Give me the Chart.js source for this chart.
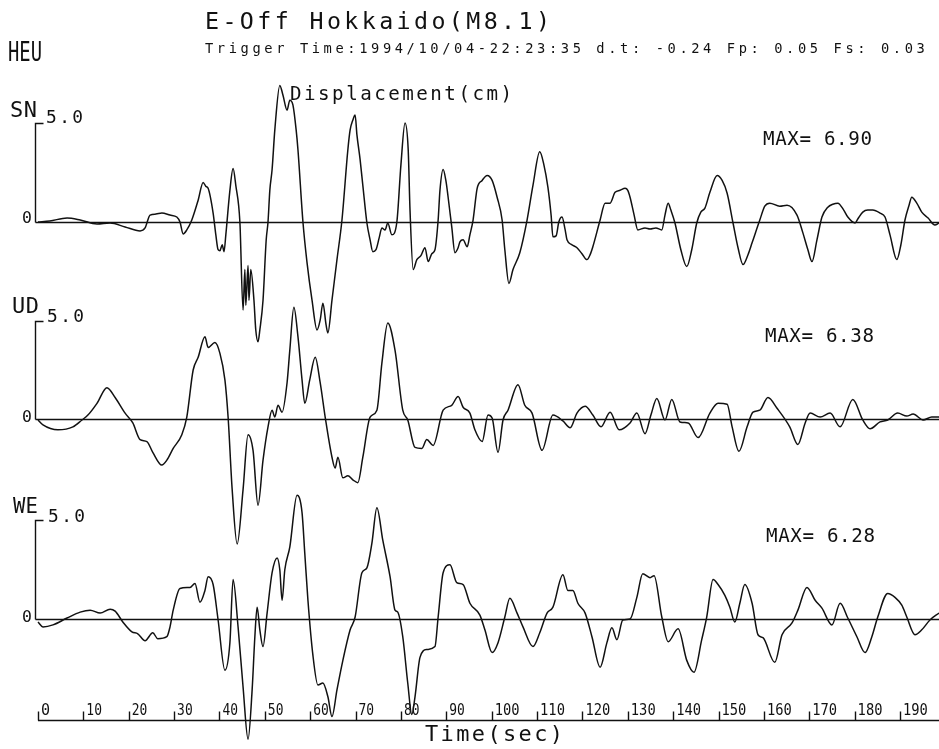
<!DOCTYPE html>
<html>
<head>
<meta charset="utf-8">
<script src="https://cdn.jsdelivr.net/npm/chart.js@4/dist/chart.umd.min.js"></script>
<style>
  html, body { margin: 0; padding: 0; background: #ffffff; }
  #wrap { width: 939px; height: 749px; }
</style>
</head>
<body>
<div id="wrap"><canvas id="c" width="939" height="749"></canvas></div>
<script>
// ---------------- DATA ----------------
const stationName = 'HEU';
const titleText = 'E-Off Hokkaido(M8.1)';
const triggerText = 'Trigger Time:1994/10/04-22:23:35 d.t: -0.24 Fp: 0.05 Fs: 0.03';
const quantityLabel = 'Displacement(cm)';
const xAxisTitle = 'Time(sec)';
const componentNames = ['SN', 'UD', 'WE'];
const maxLabels = ['MAX= 6.90', 'MAX= 6.38', 'MAX= 6.28'];
const yTickValues = [0, 5.0];
const yTickLabels = ['0', '5.0'];
const xTickValues = [0, 10, 20, 30, 40, 50, 60, 70, 80, 90, 100, 110, 120, 130, 140, 150, 160, 170, 180, 190];
const xTickLabels = ['0', '10', '20', '30', '40', '50', '60', '70', '80', '90', '100', '110', '120', '130', '140', '150', '160', '170', '180', '190'];

// [time (sec), displacement (cm)]
const snSamples = [
  [0,0],[2.6,0.05],[6.4,0.2],[9.3,0.1],[13.0,-0.1],[15.9,-0.05],[19.2,-0.25],[22.5,-0.45],[23.6,-0.3],[24.7,0.35],
  [26.0,0.4],[27.3,0.45],[29.1,0.35],[30.6,0.25],[31.3,0],[32.0,-0.6],[32.8,-0.4],[33.9,0.1],[35.3,1.1],[36.4,2.0],
  [37.0,1.8],[37.5,1.7],[38.6,0.45],[39.2,-0.65],[39.7,-1.4],[40.1,-1.45],[40.6,-1.15],[41.0,-1.5],[41.4,-0.65],[42.3,1.6],
  [43.0,2.7],[43.6,1.85],[44.5,0],[45.2,-4.45],[45.6,-2.4],[45.8,-4.2],[46.3,-2.2],[46.5,-3.95],[46.9,-2.4],[47.6,-3.95],
  [48.0,-5.45],[48.5,-6.05],[48.9,-5.45],[49.6,-3.95],[50.3,-0.9],[50.7,0],[51.1,1.6],[51.6,2.65],[52.2,4.65],[53.3,6.9],
  [54.0,6.4],[54.9,5.65],[55.5,6.15],[56.2,5.9],[56.9,4.65],[57.3,3.65],[58.4,0],[59.3,-2.05],[60.4,-3.95],[61.5,-5.45],
  [62.2,-4.95],[62.8,-4.1],[63.5,-5.2],[63.9,-5.6],[64.8,-3.95],[65.9,-1.9],[67.0,0.1],[68.3,3.65],[68.8,4.65],[69.4,5.15],
  [69.9,5.4],[70.3,4.4],[71.0,3.15],[71.6,1.85],[72.5,-0.05],[73.2,-0.9],[73.8,-1.5],[74.5,-1.4],[75.2,-0.8],[75.8,-0.3],
  [76.5,-0.4],[77.1,-0.05],[78.0,-0.65],[79.1,0],[80.0,2.9],[80.9,5.0],[81.6,3.65],[82.0,0.6],[82.7,-2.4],[83.5,-1.9],
  [84.4,-1.7],[85.3,-1.3],[86.0,-2.0],[86.8,-1.6],[87.5,-1.4],[88.2,0.1],[88.6,1.6],[89.3,2.65],[89.9,2.1],[90.4,1.25],
  [91.2,-0.25],[91.9,-1.55],[92.6,-1.3],[93.0,-1.0],[93.7,-0.9],[94.6,-1.25],[95.2,-0.65],[95.9,0.1],[96.8,1.7],[97.9,2.1],
  [99.0,2.35],[100.1,2.1],[101.2,1.25],[102.3,0.1],[102.9,-1.4],[103.8,-3.1],[104.7,-2.4],[106.2,-1.55],[107.8,0.1],[109.1,1.85],
  [110.6,3.55],[111.5,2.9],[112.4,1.75],[113.1,0.35],[113.5,-0.75],[114.2,-0.7],[114.8,0],[115.5,0.25],[116.2,-0.4],[116.6,-0.9],
  [117.7,-1.15],[118.8,-1.3],[119.9,-1.6],[121.0,-1.9],[121.7,-1.65],[122.3,-1.25],[123.9,0.1],[125.0,0.95],[126.1,0.95],[127.2,1.5],
  [128.3,1.6],[129.4,1.7],[130.0,1.6],[130.5,1.25],[131.4,0.35],[132.2,-0.4],[133.8,-0.3],[134.9,-0.35],[136.2,-0.3],[137.5,-0.4],
  [138.2,0.35],[138.9,0.95],[139.5,0.6],[140.4,-0.05],[141.7,-1.4],[143.0,-2.25],[144.1,-1.4],[145.2,-0.05],[146.1,0.5],[147.0,0.7],
  [148.1,1.5],[149.7,2.35],[150.8,2.1],[151.9,1.45],[153.2,-0.05],[154.3,-1.3],[155.4,-2.15],[156.5,-1.65],[157.4,-1.05],[159.1,0.1],
  [160.2,0.8],[161.3,0.95],[163.5,0.8],[165.1,0.85],[167.3,0.35],[168.6,-0.55],[169.7,-1.4],[170.6,-2.0],[171.7,-0.9],[172.8,0.25],
  [174.1,0.75],[175.2,0.9],[176.3,0.95],[177.6,0.6],[178.5,0.25],[180.1,-0.05],[180.7,0.15],[181.8,0.5],[182.9,0.6],[184.0,0.6],
  [185.6,0.45],[186.7,0.25],[187.8,-0.65],[189.3,-1.9],[190.2,-1.15],[191.1,0.1],[192.0,0.85],[192.6,1.25],[193.7,0.95],[194.8,0.5],
  [196.2,0.2],[197.7,-0.15],[198.6,-0.05]
];

const udSamples = [
  [0,-0.05],[1.1,-0.3],[4.4,-0.55],[7.7,-0.4],[9.7,-0.05],[11.0,0.2],[13.0,0.8],[15.2,1.6],[17.0,1.1],[19.2,0.3],
  [20.9,-0.2],[22.5,-1.05],[24.0,-1.15],[25.3,-1.7],[27.3,-2.35],[28.4,-2.1],[29.8,-1.5],[31.7,-0.8],[32.8,0.1],[34.2,2.5],
  [35.3,3.15],[36.8,4.2],[37.5,3.65],[39.0,3.9],[40.1,3.35],[41.2,2.0],[41.9,0.1],[42.8,-3.6],[43.9,-6.38],[45.2,-3.6],
  [46.3,-0.8],[47.4,-1.6],[48.5,-4.4],[49.6,-2.1],[50.7,-0.4],[51.6,0.45],[52.2,0.1],[52.9,0.7],[53.8,0.35],[54.9,1.85],
  [55.5,3.5],[56.4,5.7],[57.3,4.2],[58.2,2.0],[58.8,0.8],[59.9,2.0],[61.1,3.15],[62.2,1.85],[63.3,0.1],[64.8,-1.95],
  [65.5,-2.5],[66.1,-1.95],[67.2,-3.0],[68.3,-2.9],[69.4,-3.1],[70.5,-3.25],[71.6,-1.95],[73.2,0.1],[74.7,0.45],[75.8,2.85],
  [77.1,4.9],[78.7,3.5],[80.4,0.45],[81.5,-0.05],[83.1,-1.45],[84.6,-1.5],[85.7,-1.05],[87.1,-1.35],[89.3,0.45],[91.2,0.7],
  [92.6,1.15],[93.7,0.6],[95.2,0.3],[96.3,-0.55],[97.9,-1.15],[99.2,0.2],[100.1,0.05],[101.4,-1.7],[102.5,-0.05],[103.6,0.45],
  [105.8,1.75],[107.3,0.7],[108.9,0.3],[111.1,-1.6],[113.5,0.2],[115.7,-0.1],[117.3,-0.45],[118.8,0.3],[120.6,0.65],[122.3,0.2],
  [124.1,-0.4],[126.1,0.35],[128.1,-0.55],[130.5,-0.2],[132.0,0.3],[133.8,-0.75],[135.1,0.2],[136.4,1.05],[138.2,-0.05],[139.7,1.0],
  [141.5,-0.15],[143.3,-0.2],[145.5,-0.95],[148.1,0.3],[149.9,0.8],[151.9,0.75],[153.0,-0.4],[154.5,-1.65],[156.3,-0.4],[157.6,0.35],
  [159.1,0.45],[160.9,1.1],[162.9,0.55],[165.7,-0.4],[167.5,-1.3],[169.1,-0.2],[170.2,0.3],[172.4,0.1],[174.6,0.3],[176.8,-0.4],
  [179.6,1.0],[181.8,-0.05],[183.4,-0.5],[185.6,-0.15],[187.3,-0.05],[189.5,0.3],[191.5,0.15],[192.9,0.25],[195.1,-0.05],[197.0,0.1],
  [198.6,0.1]
];

const weSamples = [
  [0,-0.15],[1.1,-0.4],[3.3,-0.3],[6.4,0.05],[9.3,0.35],[11.5,0.45],[13.7,0.3],[15.9,0.5],[17.0,0.4],[18.7,-0.15],
  [20.7,-0.65],[22.0,-0.75],[23.6,-1.1],[25.3,-0.7],[26.4,-1.0],[28.4,-0.9],[29.1,-0.4],[29.8,0.45],[31.3,1.55],[33.5,1.6],
  [34.6,1.8],[35.7,0.85],[36.8,1.45],[37.5,2.15],[38.6,1.75],[39.7,-0.05],[41.2,-2.6],[42.3,-1.2],[43.0,2.0],[44.1,-0.4],
  [45.2,-3.45],[46.3,-6.1],[47.2,-3.6],[47.8,-0.9],[48.3,0.6],[48.9,-0.55],[49.6,-1.4],[50.5,0.3],[51.6,2.35],[52.7,3.1],
  [53.3,2.5],[53.8,0.95],[54.4,2.5],[55.5,3.65],[57.1,6.28],[58.2,5.4],[58.8,3.35],[59.5,0.95],[60.6,-1.85],[61.7,-3.35],
  [62.8,-3.25],[63.9,-3.95],[64.8,-4.95],[65.9,-3.6],[67.2,-2.1],[68.8,-0.55],[69.9,0.1],[71.4,2.35],[72.5,2.6],[73.6,3.85],
  [74.7,5.65],[76.0,4.0],[77.6,2.15],[78.7,0.45],[79.3,0.35],[80.4,-0.9],[81.5,-3.25],[82.4,-4.85],[83.1,-3.95],[84.2,-1.95],
  [85.7,-1.55],[87.5,-1.4],[88.2,0.1],[89.3,2.35],[90.8,2.75],[92.3,1.85],[93.7,1.75],[95.2,0.8],[97.4,0.2],[98.5,-0.55],
  [100.1,-1.7],[101.4,-1.2],[102.9,0.1],[104.0,1.05],[105.6,0.3],[106.9,-0.4],[109.1,-1.4],[110.6,-0.7],[112.2,0.3],[113.5,0.6],
  [115.7,2.25],[116.8,1.45],[117.9,1.45],[119.0,0.8],[120.6,0.3],[122.1,-0.9],[123.9,-2.45],[125.4,-1.2],[126.5,-0.45],[127.6,-1.05],
  [128.9,-0.05],[130.5,0],[132.0,1.1],[133.3,2.3],[134.9,2.1],[135.8,2.2],[137.5,0.1],[138.9,-1.15],[141.1,-0.5],[143.0,-2.1],
  [144.6,-2.7],[146.3,-1.05],[147.4,0.1],[148.8,2.0],[149.9,1.75],[151.4,1.2],[152.5,0.6],[153.6,-0.15],[154.7,0.8],[155.8,1.75],
  [157.4,0.8],[158.7,-0.8],[159.8,-0.95],[162.4,-2.2],[164.0,-0.8],[166.2,-0.2],[167.5,0.45],[169.5,1.6],[171.3,0.95],[172.8,0.55],
  [175.0,-0.3],[176.8,0.8],[178.5,0.05],[180.5,-0.9],[182.3,-1.7],[183.8,-0.9],[185.1,0.1],[187.3,1.3],[188.9,1.1],[190.4,0.7],
  [191.5,0.1],[193.3,-0.8],[194.8,-0.55],[196.6,-0.05],[198.6,0.3]
];

// ---------------- LAYOUT / STYLE ----------------
const INK = '#111111';
const FONT = '"DejaVu Sans Mono", "Liberation Mono", monospace';
const axisIds = ['ySN', 'yUD', 'yWE'];

// text boxes: [x, baseline, capHeight, width]
const panelText = {
  name:   [[10, 117, 16, 27], [12, 313, 16, 27], [13, 513, 15, 25]],
  five:   [[46, 123, 13, 37], [47, 322, 13, 37], [48, 522, 13, 37]],
  zero:   [[22, 223, 12, 10], [22, 422, 12, 10], [22, 622, 12, 10]],
  max:    [[763, 145, 14, 109], [765, 342, 14, 109], [766, 542, 14, 109]]
};

function drawFit(ctx, text, x, baseline, capH, width) {
  const size = capH / 0.729;
  ctx.font = size.toFixed(2) + 'px ' + FONT;
  ctx.textAlign = 'left';
  ctx.textBaseline = 'alphabetic';
  const hasLS = ('letterSpacing' in ctx);
  if (hasLS) ctx.letterSpacing = '0px';
  const chars = Array.from(text);
  const n = chars.length;
  const w0 = ctx.measureText(text).width;
  if (!width || n < 2) { ctx.fillText(text, x, baseline); return; }
  const ls = (width - w0) / (n - 1);
  if (ls >= 0 && hasLS) {
    ctx.letterSpacing = ls.toFixed(2) + 'px';
    ctx.fillText(text, x, baseline);
    ctx.letterSpacing = '0px';
  } else {
    ctx.save();
    ctx.translate(x, baseline);
    ctx.scale(width / w0, 1);
    ctx.fillText(text, 0, 0);
    ctx.restore();
  }
}

const decorations = {
  id: 'decorations',
  beforeDatasetsDraw(chart) {
    const ctx = chart.ctx;
    const xs = chart.scales.x;
    const area = chart.chartArea;
    ctx.save();
    ctx.strokeStyle = INK;
    ctx.lineWidth = 1.4;
    axisIds.forEach((id) => {
      const ys = chart.scales[id];
      const y0 = Math.round(ys.getPixelForValue(yTickValues[0])) + 0.5;
      const y5 = Math.round(ys.getPixelForValue(yTickValues[1])) + 0.5;
      const xl = area.left - 2.5;
      // zero line
      ctx.beginPath();
      ctx.moveTo(xl, y0);
      ctx.lineTo(area.right, y0);
      ctx.stroke();
      // vertical scale bracket
      ctx.beginPath();
      ctx.moveTo(xl, y0);
      ctx.lineTo(xl, y5);
      ctx.lineTo(xl + 8, y5);
      ctx.stroke();
    });
    // time axis
    const axisY = 720.5;
    ctx.beginPath();
    ctx.moveTo(xs.getPixelForValue(0), axisY);
    ctx.lineTo(area.right, axisY);
    ctx.stroke();
    xTickValues.forEach((v) => {
      const px = Math.round(xs.getPixelForValue(v)) + 0.5;
      ctx.beginPath();
      ctx.moveTo(px, axisY);
      ctx.lineTo(px, axisY - 9);
      ctx.stroke();
    });
    ctx.restore();
  },
  afterDatasetsDraw(chart) {
    const ctx = chart.ctx;
    const xs = chart.scales.x;
    ctx.save();
    ctx.fillStyle = INK;
    // header
    drawFit(ctx, titleText, 205, 29, 17, 345);
    drawFit(ctx, stationName, 8, 61, 19, 34);
    drawFit(ctx, triggerText, 205, 53, 10, 720);
    drawFit(ctx, quantityLabel, 290, 100, 14, 222);
    // panel labels
    componentNames.forEach((nm, i) => {
      const a = panelText.name[i];
      drawFit(ctx, nm, a[0], a[1], a[2], a[3]);
      const f = panelText.five[i];
      drawFit(ctx, yTickLabels[1], f[0], f[1], f[2], f[3]);
      const z = panelText.zero[i];
      drawFit(ctx, yTickLabels[0], z[0], z[1], z[2], 0);
      const m = panelText.max[i];
      drawFit(ctx, maxLabels[i], m[0], m[1], m[2], m[3]);
    });
    // time tick labels
    xTickValues.forEach((v, i) => {
      const px = xs.getPixelForValue(v);
      const lab = xTickLabels[i];
      drawFit(ctx, lab, px + 3, 715, 11, lab.length > 1 ? lab.length * 9.3 - 3 : 0);
    });
    drawFit(ctx, xAxisTitle, 425, 741, 16, 138);
    ctx.restore();
  }
};

const toPoints = (arr) => arr.map(([t, v]) => ({ x: t, y: v }));

const lineStyle = {
  borderColor: INK,
  borderWidth: 1.5,
  pointRadius: 0,
  fill: false,
  cubicInterpolationMode: 'monotone',
  clip: false
};

new Chart(document.getElementById('c').getContext('2d'), {
  type: 'line',
  data: {
    datasets: [
      Object.assign({ label: componentNames[0], data: toPoints(snSamples), yAxisID: 'ySN' }, lineStyle),
      Object.assign({ label: componentNames[1], data: toPoints(udSamples), yAxisID: 'yUD' }, lineStyle),
      Object.assign({ label: componentNames[2], data: toPoints(weSamples), yAxisID: 'yWE' }, lineStyle)
    ]
  },
  options: {
    responsive: false,
    animation: false,
    devicePixelRatio: 1,
    layout: { padding: { left: 38, right: 0, top: 0, bottom: 0 } },
    plugins: { legend: { display: false }, tooltip: { enabled: false }, title: { display: false } },
    events: [],
    scales: {
      x:   { type: 'linear', min: 0, max: 198.6, display: false },
      // each component trace: zero line position and 5 cm height set by the axis range
      ySN: { type: 'linear', min: -26.616, max: 11.212, display: false },
      yUD: { type: 'linear', min: -16.837, max: 21.378, display: false },
      yWE: { type: 'linear', min: -6.599, max: 31.421, display: false }
    }
  },
  plugins: [decorations]
});
</script>
</body>
</html>
